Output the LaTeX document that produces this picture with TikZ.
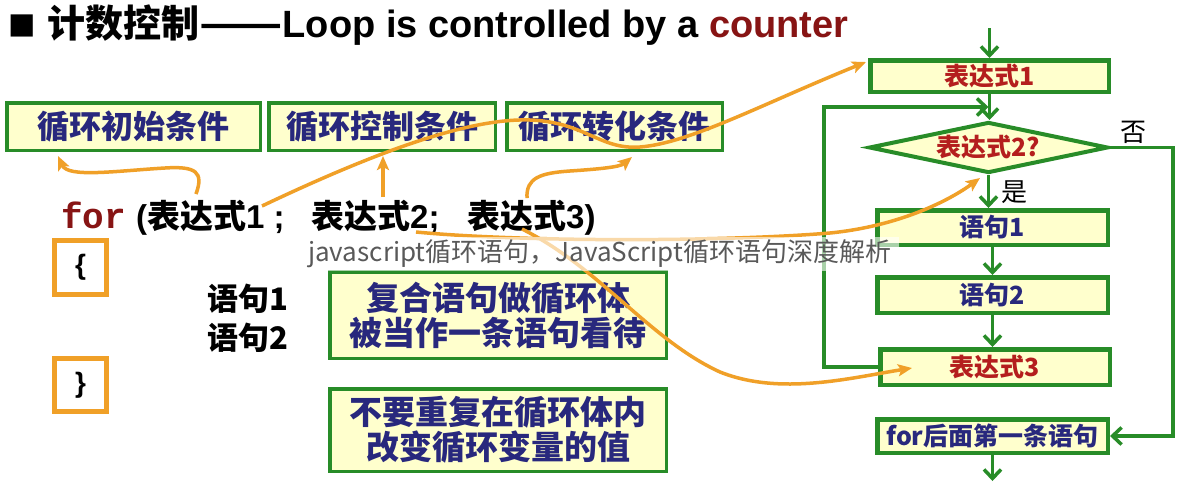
\documentclass[tikz,border=0pt]{standalone}
\usepackage{fontspec}
\usepackage{graphicx}
\setmainfont{Liberation Sans}
\newfontfamily\cjk{Noto Sans CJK SC}
\newfontfamily\monof{Liberation Mono}
\newfontfamily\dejavu{DejaVu Sans}
\usetikzlibrary{arrows.meta,shapes.geometric}
\definecolor{gr}{RGB}{40,140,40}
\definecolor{fillY}{RGB}{255,255,205}
\definecolor{navy}{RGB}{40,40,125}
\definecolor{fred}{RGB}{180,30,30}
\definecolor{dred}{RGB}{135,20,20}
\definecolor{orn}{RGB}{240,160,40}
\newcommand\fsz[1]{\fontsize{#1}{#1}\selectfont}
\begin{document}
\begin{tikzpicture}[x=1pt,y=-1pt,
  topbox/.style={draw=gr, line width=3.5pt, fill=fillY, inner sep=0pt, text=navy, font=\cjk\bfseries\fsz{32}, minimum height=47.5pt},
  midbox/.style={draw=gr, line width=3.5pt, fill=fillY, inner sep=0pt, text=navy, align=center, font=\cjk\bfseries\fontsize{33}{35}\selectfont, minimum width=336.5pt},
  bracebox/.style={draw=orn, line width=5pt, inner sep=0pt, minimum width=52pt, font=\bfseries\fsz{28}},
  flowbox/.style={draw=gr, line width=4.5pt, fill=fillY, inner sep=0pt, minimum width=230.5pt, font=\cjk\bfseries\fsz{25}},
  gline/.style={draw=gr, line width=3.5pt},
  garrow/.style={gline, -{Straight Barb[length=9pt,width=17pt]}},
  oarrow/.style={draw=orn, line width=3.5pt, -{Stealth[length=14pt,width=12pt,inset=3pt]}},
  lbl/.style={font=\cjk\fsz{26}, inner sep=0pt}
]
\useasboundingbox (0,0) rectangle (1186,490);
\fill[white] (0,0) rectangle (1186,490);

% title
\node[font=\dejavu\fsz{29}, inner sep=0pt] (bullet) at (22,26) {■};
\node[anchor=base west, font=\bfseries\fsz{38}, inner sep=0pt] (title) at (47,37)
  {{\cjk 计数控制\scalebox{1.28}[1]{——}}Loop is controlled by a \textcolor{dred}{counter}};

% top boxes
\node[topbox, minimum width=253.5pt] (bA) at (133.5,126.5) {循环初始条件};
\node[topbox, minimum width=226.5pt] (bB) at (382,126.5) {循环控制条件};
\node[topbox, minimum width=215.5pt] (bC) at (614.5,126.5) {循环转化条件};

% for line
\node[anchor=base west, inner sep=0pt, font=\monof\bfseries\fsz{36}, text=dred] (kfor) at (61,228) {for};
\node[anchor=base west, inner sep=0pt, font=\bfseries\fsz{33}] (ex1) at (136,228) {({\cjk 表达式}1 ;};
\node[anchor=base west, inner sep=0pt, font=\bfseries\fsz{33}] (ex2) at (311,228) {{\cjk 表达式}2;};
\node[anchor=base west, inner sep=0pt, font=\bfseries\fsz{33}] (ex3) at (467,228) {{\cjk 表达式}3)};

% braces
\node[bracebox, minimum height=54pt] (lb) at (80.5,267.5) {\{};
\node[bracebox, minimum height=53pt] (rb) at (80.5,385) {\}};

% statements
\node[anchor=west, inner sep=0pt, font=\cjk\bfseries\fsz{31}] (st1) at (207,299) {语句1};
\node[anchor=west, inner sep=0pt, font=\cjk\bfseries\fsz{31}] (st2) at (207,338) {语句2};

% middle boxes
\node[midbox, minimum height=86.5pt] (m1) at (498,315) {复合语句做循环体\\被当作一条语句看待};
\node[midbox, minimum height=82.5pt] (m2) at (498,430) {不要重复在循环体内\\改变循环变量的值};

% flowchart
\node[flowbox, minimum width=238.5pt, minimum height=31.5pt, text=fred] (e1) at (989.5,76) {表达式1};
\node[diamond, draw=gr, line width=4pt, fill=fillY, inner sep=0pt, aspect=4.4,
      minimum width=239pt, minimum height=51pt, text=fred, font=\cjk\bfseries\fsz{25}] (d) at (988.5,147.5) {表达式2?};
\node[flowbox, minimum height=34.5pt, text=navy] (s1) at (992.5,227.5) {语句1};
\node[flowbox, minimum height=35.5pt, text=navy] (s2) at (992.5,295) {语句2};
\node[flowbox, minimum width=229.5pt, minimum height=35.5pt, text=fred] (e3) at (995,367) {表达式3};
\node[flowbox, minimum height=33.5pt, text=navy] (af) at (992.5,436) {for后面第一条语句};

\node[lbl] (no) at (1133,132) {否};
\node[lbl] (yes) at (1014,192) {是};

\coordinate (fin) at (989.5,28);
\coordinate (fout) at (992.5,481);
\coordinate (loopT) at (824,107);
\coordinate (noX) at (1173,147.5);

\draw[garrow] (fin) -- (e1.north);
\draw[garrow] (e1.south) -- (e1.south |- d.north);
\draw[garrow] (d.south) -- (d.south |- s1.north);
\draw[garrow] (s1.south) -- (s2.north);
\draw[garrow] (s2.south) -- (s2.south |- e3.north);
\draw[garrow] (af.south) -- (fout);
\draw[garrow, shorten >=1pt] (e3.west) -- (e3.west -| loopT) -- (loopT) -- (loopT -| e1.south);
\draw[garrow] (d.east) -- (noX) |- (af.east);

% orange connectors
\coordinate (c1s) at (196,194);
\coordinate (c1e) at (58,156);
\coordinate (c2s) at (262,206);
\coordinate (c2e) at (866,62);
\coordinate (c3s) at (383,197);
\coordinate (c3e) at (383,156);
\coordinate (c4s) at (527,198);
\coordinate (c4e) at (632,157);
\coordinate (c5s) at (416,232);
\coordinate (c5e) at (980,178);
\coordinate (c6s) at (522,229);
\coordinate (c6e) at (912,368);

\draw[oarrow] (c1s) .. controls (204,172) and (196,166) .. (165,168) .. controls (115,171) and (68,178) .. (c1e);
\draw[oarrow] (c2s) .. controls (380,150) and (470,118) .. (530,120) .. controls (585,122) and (600,150) .. (640,147) .. controls (690,143) and (760,105) .. (c2e);
\draw[oarrow] (c3s) -- (c3e);
\draw[oarrow] (c4s) .. controls (526,178) and (540,173) .. (570,171) .. controls (600,169) and (620,167) .. (c4e);
\draw[oarrow] (c5s) .. controls (520,242) and (720,242) .. (830,233) .. controls (900,226) and (950,200) .. (c5e);
\draw[oarrow] (c6s) .. controls (600,268) and (650,340) .. (720,372) .. controls (780,396) and (850,378) .. (c6e);

% watermark
\node[anchor=west, fill=white, fill opacity=0.6, text opacity=1, text=black!65,
      font=\cjk\fsz{26}, inner xsep=8pt, inner ysep=3pt, minimum height=32pt] (wm) at (300,254)
  {javascript循环语句，JavaScript循环语句深度解析};
\end{tikzpicture}
\end{document}
